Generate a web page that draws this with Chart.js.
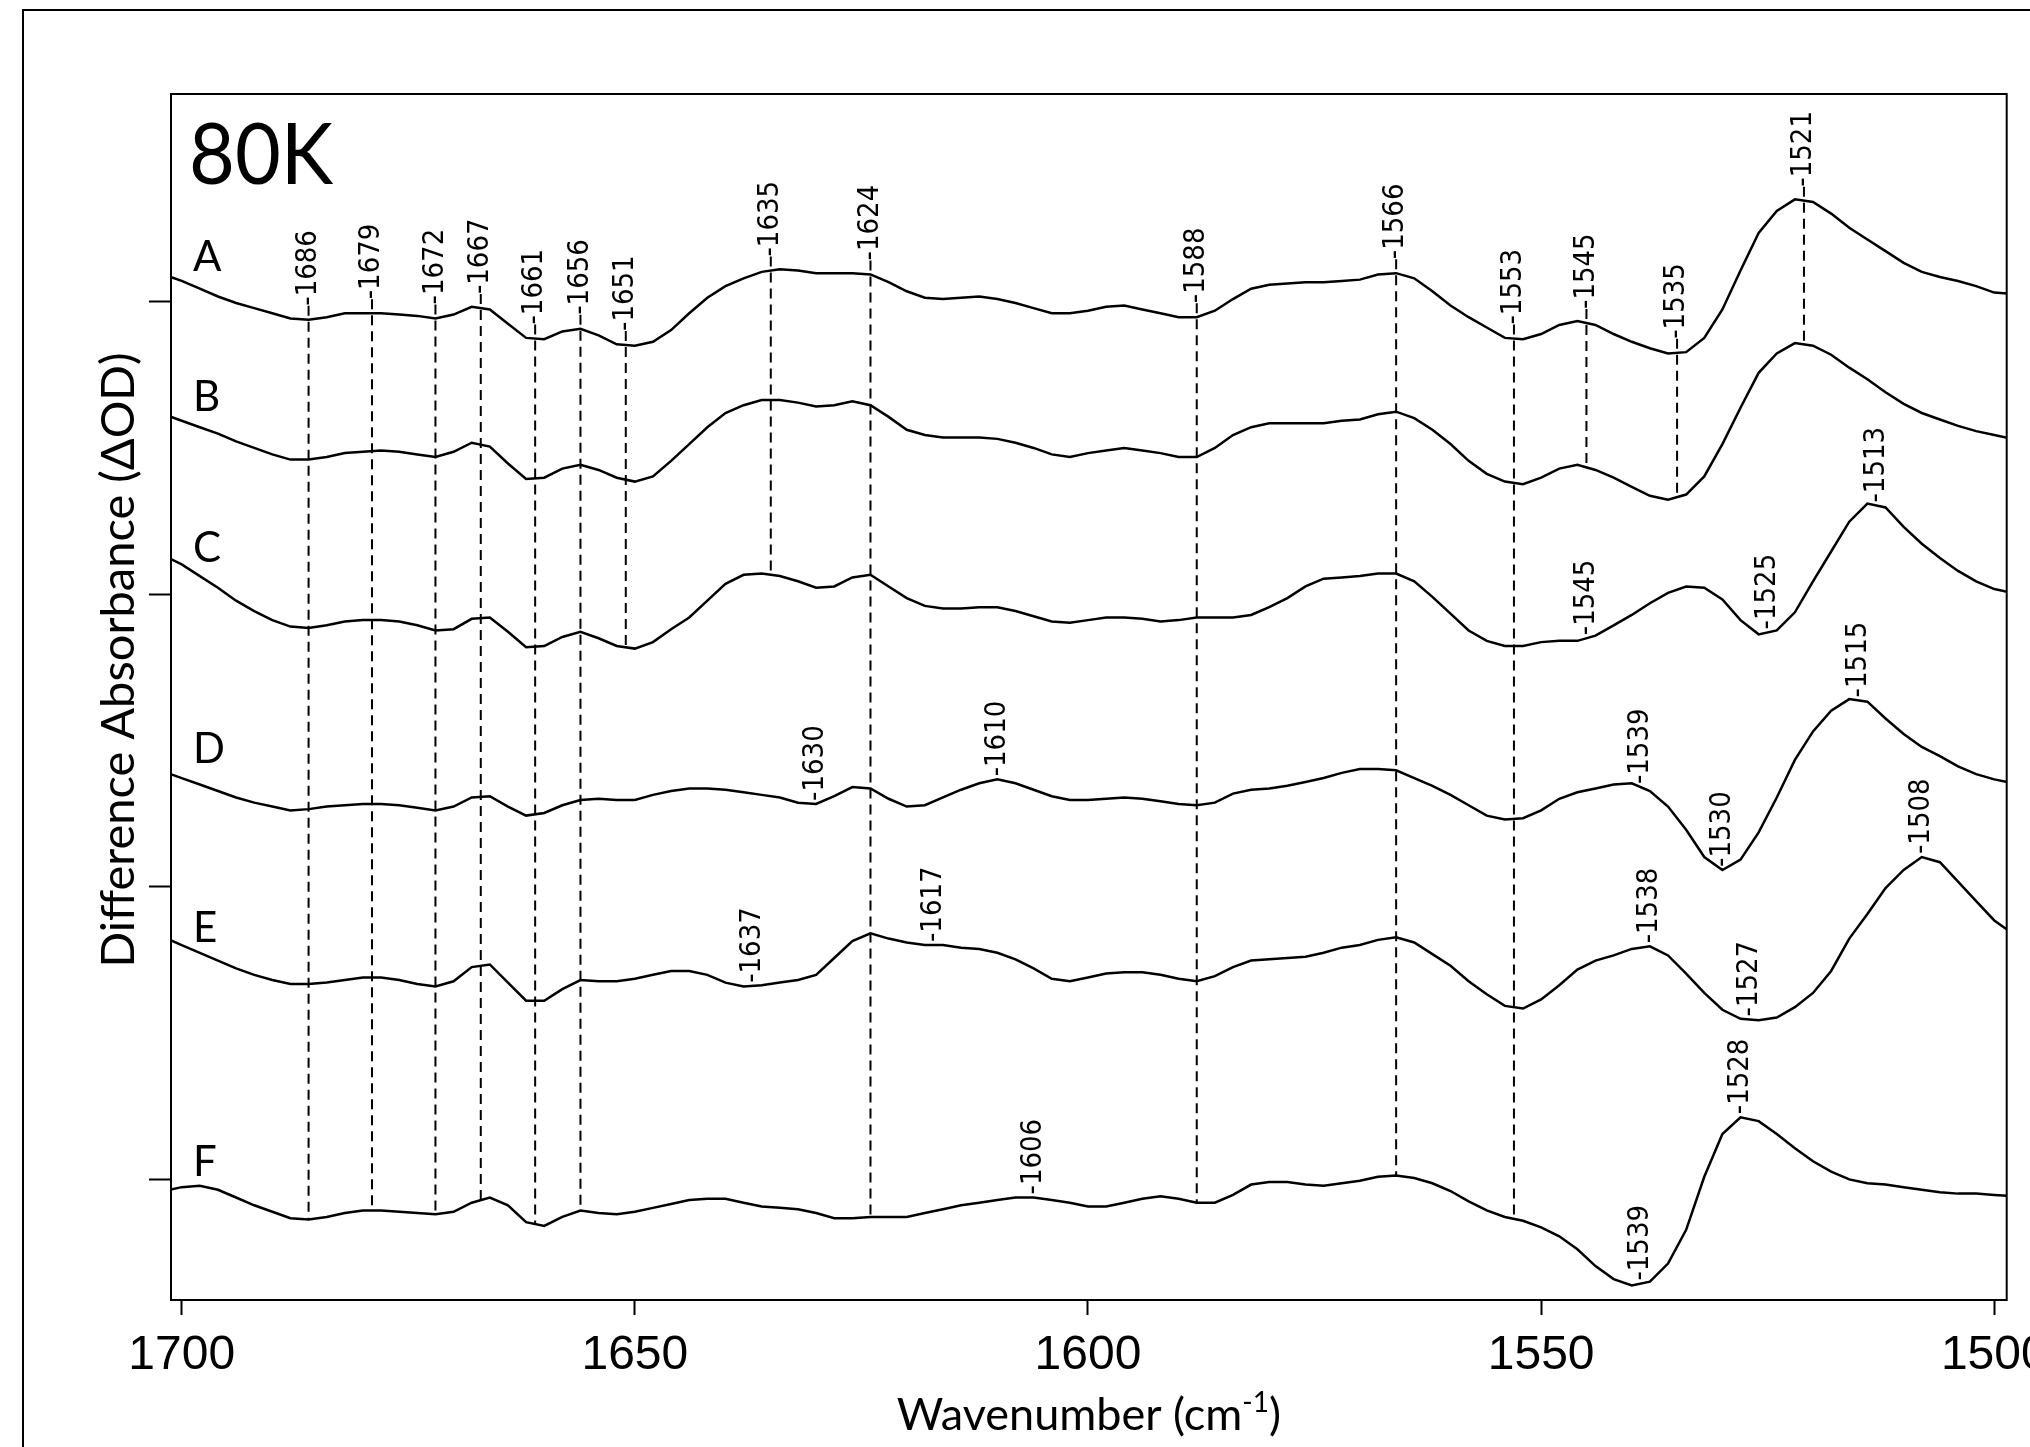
<!DOCTYPE html>
<html>
<head>
<meta charset="utf-8">
<script src="https://cdn.jsdelivr.net/npm/chart.js"></script>
<style>
  html, body { margin: 0; padding: 0; background: #fff; }
  canvas { display: block; }
</style>
</head>
<body>
<canvas id="spectra" width="2030" height="1447"></canvas>
<script>
// wavenumber grid (cm-1), shared by all six difference spectra
const wavenumbers = [
  1702, 1700, 1698, 1696, 1694, 1692, 1690, 1688, 1686, 1684,
  1682, 1680, 1678, 1676, 1674, 1672, 1670, 1668, 1666, 1664,
  1662, 1660, 1658, 1656, 1654, 1652, 1650, 1648, 1646, 1644,
  1642, 1640, 1638, 1636, 1634, 1632, 1630, 1628, 1626, 1624,
  1622, 1620, 1618, 1616, 1614, 1612, 1610, 1608, 1606, 1604,
  1602, 1600, 1598, 1596, 1594, 1592, 1590, 1588, 1586, 1584,
  1582, 1580, 1578, 1576, 1574, 1572, 1570, 1568, 1566, 1564,
  1562, 1560, 1558, 1556, 1554, 1552, 1550, 1548, 1546, 1544,
  1542, 1540, 1538, 1536, 1534, 1532, 1530, 1528, 1526, 1524,
  1522, 1520, 1518, 1516, 1514, 1512, 1510, 1508, 1506, 1504,
  1502, 1500, 1498
];

// offset traces, arbitrary units
const traceA = [
  21, 16, 10, 4, -1, -5, -9, -13, -14, -12,
  -9, -9, -9, -10, -11, -13, -10, -4, -6, -17,
  -28, -29, -23, -21, -26, -33, -34, -31, -22, -9,
  3, 12, 18, 23, 25, 24, 22, 22, 22, 21,
  15, 8, 3, 2, 3, 4, 2, -1, -5, -9,
  -9, -7, -4, -3, -6, -9, -12, -12, -7, 2,
  10, 13, 14, 15, 15, 16, 17, 21, 22, 18,
  8, -3, -12, -20, -28, -29, -25, -18, -15, -18,
  -25, -31, -36, -40, -39, -28, -6, 24, 53, 70,
  79, 77, 68, 57, 48, 39, 30, 23, 19, 16,
  12, 7, 6
];
const traceB = [
  -87, -92, -97, -102, -108, -113, -118, -122, -122, -120,
  -117, -116, -115, -116, -118, -120, -116, -109, -112, -125,
  -137, -136, -129, -126, -130, -136, -139, -135, -123, -110,
  -97, -86, -80, -76, -76, -78, -81, -80, -77, -80,
  -89, -99, -103, -105, -105, -105, -106, -109, -113, -118,
  -120, -117, -115, -113, -115, -117, -120, -120, -113, -103,
  -97, -94, -94, -94, -94, -92, -91, -87, -85, -90,
  -99, -110, -123, -133, -139, -141, -136, -129, -126, -130,
  -136, -143, -150, -153, -149, -135, -110, -82, -55, -40,
  -32, -34, -41, -51, -60, -70, -79, -86, -91, -96,
  -100, -103, -106
];
const traceC = [
  -196, -203, -212, -221, -231, -239, -246, -251, -252, -250,
  -247, -246, -246, -247, -250, -254, -253, -245, -244, -255,
  -267, -266, -259, -255, -260, -266, -268, -263, -253, -244,
  -231, -218, -211, -210, -212, -216, -221, -220, -213, -211,
  -220, -229, -235, -237, -237, -236, -236, -239, -243, -247,
  -248, -246, -244, -244, -245, -247, -246, -244, -244, -244,
  -242, -236, -229, -220, -214, -213, -212, -210, -210, -216,
  -228, -241, -254, -262, -266, -266, -263, -262, -262, -258,
  -250, -242, -233, -225, -220, -221, -230, -246, -257, -254,
  -240, -216, -193, -170, -156, -159, -174, -187, -198, -208,
  -216, -222, -225
];
const traceD = [
  -363, -368, -373, -378, -383, -387, -390, -393, -392, -390,
  -389, -388, -388, -389, -391, -393, -390, -383, -382, -390,
  -397, -395, -389, -385, -384, -385, -385, -381, -378, -376,
  -376, -377, -379, -381, -383, -387, -388, -382, -375, -376,
  -384, -390, -389, -383, -377, -372, -369, -372, -377, -382,
  -385, -385, -384, -383, -384, -386, -388, -389, -387, -380,
  -377, -376, -374, -371, -368, -364, -361, -361, -362, -368,
  -374, -381, -389, -397, -400, -399, -393, -384, -379, -376,
  -373, -372, -378, -390, -408, -429, -439, -431, -410, -383,
  -354, -332, -316, -307, -309, -322, -334, -344, -351, -359,
  -365, -369, -372
];
const traceE = [
  -491, -497, -503, -509, -515, -520, -524, -527, -527, -526,
  -524, -522, -522, -524, -527, -529, -525, -514, -512, -526,
  -540, -540, -531, -524, -525, -525, -523, -520, -517, -517,
  -520, -526, -529, -528, -526, -524, -520, -507, -494, -488,
  -492, -495, -497, -497, -499, -500, -503, -508, -515, -523,
  -525, -522, -519, -518, -518, -520, -523, -525, -521, -514,
  -509, -508, -507, -506, -503, -499, -497, -493, -491, -495,
  -504, -513, -525, -535, -544, -546, -539, -528, -516, -509,
  -505, -500, -498, -505, -519, -534, -547, -554, -555, -553,
  -545, -534, -517, -492, -473, -453, -439, -429, -433, -448,
  -463, -478, -488
];
const traceF = [
  -687, -684, -683, -686, -692, -698, -703, -708, -709, -707,
  -704, -702, -702, -703, -704, -705, -703, -696, -692, -698,
  -711, -714, -707, -702, -704, -705, -703, -700, -697, -694,
  -693, -693, -696, -699, -700, -701, -704, -708, -708, -707,
  -707, -707, -704, -701, -698, -696, -694, -692, -692, -694,
  -696, -699, -699, -696, -693, -691, -693, -696, -696, -690,
  -682, -680, -680, -682, -683, -681, -679, -676, -675, -677,
  -681, -687, -695, -702, -707, -710, -715, -722, -732, -745,
  -755, -760, -757, -743, -717, -676, -643, -630, -633, -643,
  -654, -664, -672, -678, -681, -682, -684, -686, -688, -689,
  -689, -690, -691
];

const traceNames = ["A", "B", "C", "D", "E", "F"];
const xTicks = [1700, 1650, 1600, 1550, 1500];
const yTicks = [0, -226, -452, -678];

// bands marked on trace A with a dashed guide down to another trace
const markedBands = [1686, 1679, 1672, 1667, 1661, 1656, 1651, 1635, 1624, 1588, 1566, 1553, 1545, 1535, 1521];
const markedEnds = ["F", "F", "F", "F", "F", "F", "C", "C", "F", "F", "F", "F", "B", "B", "B"];
// bands labelled on the lower traces only
const bandsC = [1545, 1525, 1513];
const bandsD = [1630, 1610, 1539, 1530, 1515];
const bandsE = [1637, 1617, 1538, 1527, 1508];
const bandsF = [1606, 1539, 1528];

const traces = { A: traceA, B: traceB, C: traceC, D: traceD, E: traceE, F: traceF };
const lowerBands = { C: bandsC, D: bandsD, E: bandsE, F: bandsF };
// letter baseline shift (px) from each trace's first point
const letterShift = { A: -3, B: -3, C: 7, D: -9, E: 5, F: -15 };

function valueAt(trace, w) {
  for (let i = 0; i < wavenumbers.length - 1; i++) {
    const w0 = wavenumbers[i], w1 = wavenumbers[i + 1];
    if (w <= w0 && w >= w1) {
      const t = (w0 - w) / (w0 - w1);
      return trace[i] + t * (trace[i + 1] - trace[i]);
    }
  }
  return trace[trace.length - 1];
}

function bandLabel(ctx, px, py, w) {
  ctx.save();
  ctx.translate(px, py);
  ctx.rotate(-Math.PI / 2);
  ctx.scale(0.93, 1);
  ctx.font = '28px "DejaVu Sans"';
  ctx.textAlign = "left";
  ctx.textBaseline = "middle";
  ctx.fillText("-" + w, 0, 0);
  ctx.restore();
}

const overlay = {
  id: "overlay",
  afterDraw(chart) {
    const { ctx, chartArea: a, scales: { x, y } } = chart;
    ctx.save();
    ctx.strokeStyle = "#000";
    ctx.fillStyle = "#000";

    // outer frame and plot box
    ctx.lineWidth = 2;
    ctx.strokeRect(23, 10, 2100, 1500);
    ctx.strokeRect(a.left, a.top, a.right - a.left, a.bottom - a.top);

    // dashed guides from trace A
    ctx.lineWidth = 2;
    ctx.setLineDash([10, 6]);
    markedBands.forEach((w, k) => {
      const px = x.getPixelForValue(w);
      const top = y.getPixelForValue(valueAt(traceA, w)) - 14;
      const bot = y.getPixelForValue(valueAt(traces[markedEnds[k]], w));
      ctx.beginPath();
      ctx.moveTo(px, top);
      ctx.lineTo(px, bot);
      ctx.stroke();
    });
    ctx.setLineDash([]);

    // band labels
    markedBands.forEach(w => {
      bandLabel(ctx, x.getPixelForValue(w), y.getPixelForValue(valueAt(traceA, w)) - 14, w);
    });
    Object.keys(lowerBands).forEach(n => {
      lowerBands[n].forEach(w => {
        bandLabel(ctx, x.getPixelForValue(w), y.getPixelForValue(valueAt(traces[n], w)) - 3, w);
      });
    });

    // trace letters
    ctx.font = "42px Lato";
    ctx.textAlign = "left";
    ctx.textBaseline = "alphabetic";
    traceNames.forEach(n => {
      ctx.fillText(n, a.left + 22, y.getPixelForValue(traces[n][0]) + letterShift[n]);
    });

    // temperature tag
    ctx.save();
    ctx.translate(a.left + 18, a.top + 90);
    ctx.scale(0.92, 1);
    ctx.font = "86px Lato";
    ctx.fillText("80K", 0, 0);
    ctx.restore();

    // y title
    ctx.save();
    ctx.translate(a.left - 37, a.top + 566);
    ctx.rotate(-Math.PI / 2);
    ctx.font = "47px Lato";
    ctx.textAlign = "center";
    ctx.fillText("Difference Absorbance (\u0394OD)", 0, 0);
    ctx.restore();

    // x title with superscript
    const main = "Wavenumber (cm", sup = "-1", tail = ")";
    ctx.font = "45px Lato";
    const w1 = ctx.measureText(main).width, w3 = ctx.measureText(tail).width;
    ctx.font = "28px Lato";
    const w2 = ctx.measureText(sup).width;
    const sx = (a.left + a.right) / 2 - (w1 + w2 + w3) / 2;
    const base = a.bottom + 130;
    ctx.font = "45px Lato";
    ctx.fillText(main, sx, base);
    ctx.font = "28px Lato";
    ctx.fillText(sup, sx + w1, base - 18);
    ctx.font = "45px Lato";
    ctx.fillText(tail, sx + w1 + w2, base);

    ctx.restore();
  }
};

const ctx = document.getElementById("spectra").getContext("2d");

new Chart(ctx, {
  type: "line",
  data: {
    datasets: traceNames.map(n => ({
      label: n,
      data: wavenumbers.map((w, i) => ({ x: w, y: traces[n][i] })),
      borderColor: "#000",
      borderWidth: 2.5,
      pointRadius: 0,
      tension: 0,
      fill: false,
    })),
  },
  options: {
    responsive: false,
    animation: false,
    devicePixelRatio: 1,
    layout: {
      padding: { left: 0, top: 94, right: 23.3, bottom: 0 },
    },
    plugins: {
      legend: { display: false },
      tooltip: { enabled: false },
    },
    scales: {
      x: {
        type: "linear",
        position: "bottom",
        reverse: true,
        min: 1498.63,
        max: 1701.18,
        afterBuildTicks: s => { s.ticks = xTicks.map(v => ({ value: v })); },
        afterFit: s => { s.height = 147; s.paddingLeft = 0; s.paddingRight = 0; },
        ticks: {
          color: "#000",
          font: { family: '"Liberation Sans", Arial, sans-serif', size: 48 },
          padding: 12,
          maxRotation: 0,
          autoSkip: false,
          callback: v => String(v),
        },
        grid: { drawOnChartArea: false, drawTicks: true, tickLength: 15, tickWidth: 2, tickColor: "#000" },
        border: { display: true, color: "#000", width: 2 },
      },
      y: {
        type: "linear",
        min: -771.17,
        max: 160.39,
        afterBuildTicks: s => { s.ticks = yTicks.map(v => ({ value: v })); },
        afterFit: s => { s.width = 171; },
        ticks: { display: false },
        grid: { drawOnChartArea: false, drawTicks: true, tickLength: 22, tickWidth: 2, tickColor: "#000" },
        border: { display: true, color: "#000", width: 2 },
      },
    },
  },
  plugins: [overlay],
});
</script>
</body>
</html>
